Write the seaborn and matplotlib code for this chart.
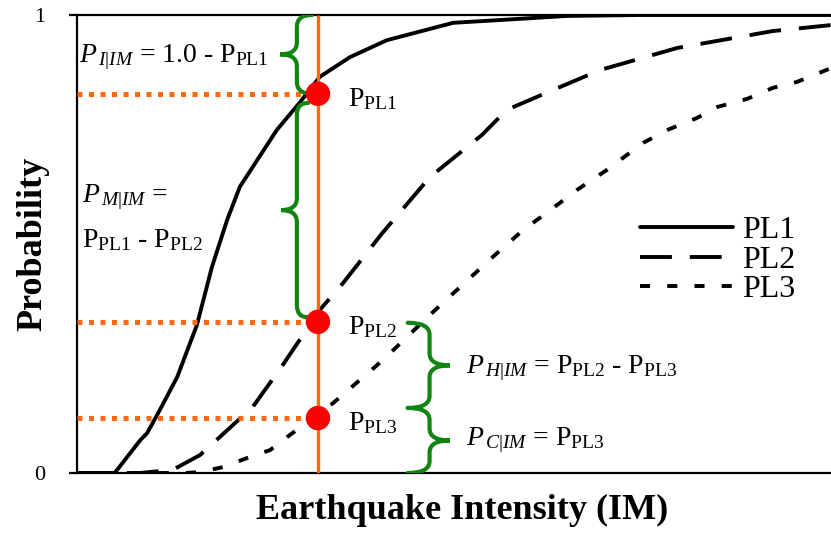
import matplotlib
matplotlib.use("Agg")
import matplotlib.pyplot as plt
from matplotlib.path import Path
from matplotlib.patches import PathPatch
import pandas as pd
import seaborn as sns

# Fragility curves: probability of reaching each performance level vs. intensity (normalised IM)
curve_names = ["PL1", "PL2", "PL3"]

im_pl1 = [0.0, 0.050, 0.084, 0.093, 0.110, 0.133, 0.159, 0.179, 0.199, 0.216,
          0.265, 0.296, 0.322, 0.362, 0.411, 0.499, 0.561, 0.650, 0.747, 1.0]
p_pl1 = [0.0, 0.0, 0.072, 0.087, 0.138, 0.210, 0.323, 0.450, 0.552, 0.625,
         0.749, 0.810, 0.865, 0.908, 0.945, 0.983, 0.989, 0.998, 1.0, 1.0]

im_pl2 = [0.0, 0.084, 0.127, 0.163, 0.233, 0.273, 0.322, 0.353, 0.405, 0.468,
          0.537, 0.570, 0.641, 0.694, 0.796, 0.923, 1.0]
p_pl2 = [0.0, 0.0, 0.007, 0.039, 0.144, 0.236, 0.356, 0.415, 0.524, 0.646,
         0.738, 0.793, 0.843, 0.880, 0.928, 0.965, 0.978]

im_pl3 = [0.0, 0.143, 0.163, 0.194, 0.226, 0.256, 0.279, 0.340, 0.406, 0.468,
          0.508, 0.557, 0.592, 0.623, 0.663, 0.703, 0.751, 0.783, 0.822, 0.849,
          0.889, 0.923, 0.955, 0.988, 1.0]
p_pl3 = [0.0, 0.0, 0.002, 0.013, 0.033, 0.050, 0.079, 0.153, 0.247, 0.345,
         0.406, 0.480, 0.531, 0.568, 0.618, 0.662, 0.721, 0.749, 0.775, 0.799,
         0.817, 0.841, 0.854, 0.876, 0.884]

# Intensity of interest and the curve ordinates read at it
im_star = 0.3196
p_star = [0.828, 0.330, 0.120]   # P_PL1, P_PL2, P_PL3

y_ticks = [0, 1]
y_tick_labels = ["0", "1"]

ORANGE = "#FF6A10"
GREEN = "#118511"
RED = "#FF0000"

sns.set_style("white")
plt.rcParams["font.family"] = ["Liberation Serif", "DejaVu Serif"]
plt.rcParams["mathtext.fontset"] = "custom"
plt.rcParams["mathtext.rm"] = "Liberation Serif"
plt.rcParams["mathtext.it"] = "Liberation Serif:italic"
plt.rcParams["mathtext.bf"] = "Liberation Serif:bold"
plt.rcParams["text.color"] = "black"
plt.rcParams["axes.labelcolor"] = "black"
plt.rcParams["xtick.color"] = "black"
plt.rcParams["ytick.color"] = "black"

frames = []
for name, xs, ys in zip(curve_names, [im_pl1, im_pl2, im_pl3], [p_pl1, p_pl2, p_pl3]):
    frames.append(pd.DataFrame({"IM": xs, "P": ys, "level": name}))
df = pd.concat(frames, ignore_index=True)

fig = plt.figure(figsize=(8.31, 5.35), dpi=100)
W, H = 831, 535
ax = fig.add_axes([77 / W, (H - 473) / H, 754 / W, 458 / H])

sns.lineplot(data=df, x="IM", y="P", hue="level", style="level",
             hue_order=curve_names, style_order=curve_names,
             palette={n: "black" for n in curve_names},
             dashes={"PL1": "", "PL2": (8.2, 4.6), "PL3": (2.6, 4.4)},
             estimator=None, sort=False, linewidth=2.8, legend=False, ax=ax,
             zorder=3)

# Vertical line at the intensity of interest and guides to the probability axis
ax.vlines(im_star, 0, 1, color=ORANGE, linewidth=2.4, zorder=4)
ax.hlines(p_star, 0, im_star, color=ORANGE, linewidth=3.6,
          linestyles=[(0, (1.0, 1.3))], zorder=4)
sns.scatterplot(x=[im_star] * len(p_star), y=p_star, s=310, color=RED,
                edgecolor="none", ax=ax, zorder=6, legend=False)


def brace(ax, y_lo, y_hi, x_end, x_body, x_tip, r, **kw):
    """Curly brace spanning y_lo..y_hi; the tip points towards x_tip."""
    ym = 0.5 * (y_lo + y_hi)
    verts = [
        (x_end, y_hi), (x_body, y_hi), (x_body, y_hi - r),
        (x_body, ym + r),
        (x_body, ym), (x_tip, ym),
        (x_body, ym), (x_body, ym - r),
        (x_body, y_lo + r),
        (x_body, y_lo), (x_end, y_lo),
    ]
    codes = [Path.MOVETO, Path.CURVE3, Path.CURVE3, Path.LINETO,
             Path.CURVE3, Path.CURVE3, Path.CURVE3, Path.CURVE3,
             Path.LINETO, Path.CURVE3, Path.CURVE3]
    ax.add_patch(PathPatch(Path(verts, codes), fill=False, **kw))


bkw = dict(edgecolor=GREEN, linewidth=3.0, capstyle="round", zorder=5)
r = 0.026
brace(ax, p_star[0], 1.0, im_star - 0.008, im_star - 0.028, im_star - 0.050, r, **bkw)
brace(ax, p_star[1] + 0.010, p_star[0] - 0.020, im_star - 0.013, im_star - 0.028,
      im_star - 0.049, r, **bkw)
brace(ax, p_star[2] + 0.022, p_star[1] - 0.002, im_star + 0.119, im_star + 0.148,
      im_star + 0.175, r, **bkw)
brace(ax, 0.0, p_star[2] + 0.022, im_star + 0.119, im_star + 0.148,
      im_star + 0.175, r, **bkw)

fs = 20
ax.text(0.002, 0.908, r"$P_{\,I|IM}$ = 1.0 - $\mathrm{P}_{\mathrm{PL1}}$",
        fontsize=fs, ha="left", va="center", zorder=7)
ax.text(0.007, 0.603, r"$P_{\,M|IM}$ =", fontsize=fs, ha="left", va="center")
ax.text(0.007, 0.509, r"$\mathrm{P}_{\mathrm{PL1}}$ - $\mathrm{P}_{\mathrm{PL2}}$",
        fontsize=fs, ha="left", va="center")
for p, name in zip(p_star, curve_names):
    ax.text(im_star + 0.040, p - 0.012, r"$\mathrm{P}_{\mathrm{" + name + "}}$",
            fontsize=fs, ha="left", va="center")
ax.text(im_star + 0.196, 0.5 * (p_star[1] + p_star[2]) + 0.004,
        r"$P_{\,H|IM}$ = $\mathrm{P}_{\mathrm{PL2}}$ - $\mathrm{P}_{\mathrm{PL3}}$",
        fontsize=fs, ha="left", va="center")
ax.text(im_star + 0.196, 0.5 * p_star[2] + 0.012,
        r"$P_{\,C|IM}$ = $\mathrm{P}_{\mathrm{PL3}}$",
        fontsize=fs, ha="left", va="center")

leg = ax.legend(ax.lines[:3], curve_names, loc="center left",
                bbox_to_anchor=(0.747, 0.465), frameon=False, fontsize=23,
                handlelength=2.9, handletextpad=0.3, labelspacing=0.0,
                borderpad=0, borderaxespad=0)

ax.set_xlim(0, 1)
ax.set_ylim(0, 1)
ax.set_xticks([])
ax.set_yticks(y_ticks)
ax.set_yticklabels(y_tick_labels, fontsize=16)
ax.tick_params(axis="y", direction="out", length=6, width=1.6, pad=17, left=True)
for side in ["left", "bottom", "top"]:
    ax.spines[side].set_linewidth(1.6)
    ax.spines[side].set_color("black")
ax.spines["right"].set_visible(False)

ax.set_xlabel("Earthquake Intensity (IM)", fontsize=26, fontweight="bold")
ax.xaxis.set_label_coords(0.511, -0.046)
ax.set_ylabel("Probability", fontsize=26, fontweight="bold")
ax.yaxis.set_label_coords(-0.036, 0.5)

fig.savefig("out.png", dpi=100)
